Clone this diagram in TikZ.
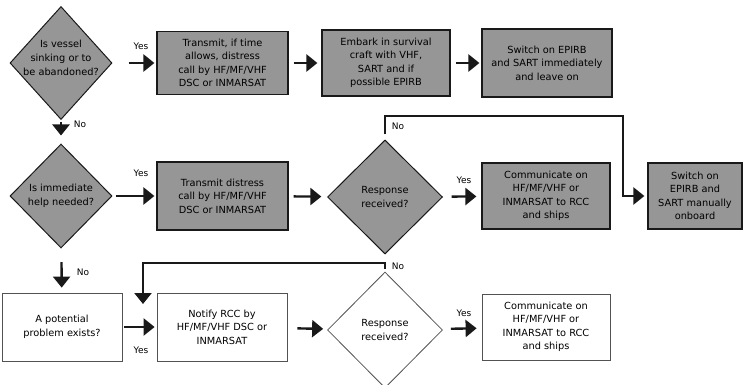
\documentclass[tikz,border=0pt]{standalone}
\usepackage{fontspec}
\setmainfont{DejaVu Sans}
\usepackage{xcolor}
\definecolor{Shade}{RGB}{150,150,150}
\definecolor{Ink}{RGB}{25,25,25}
\usepackage{tikz}
\usetikzlibrary{shapes}
\usetikzlibrary{arrows.meta}
\tikzstyle{Step}=[rectangle,draw=Ink,fill=Shade,line width=1.2pt,inner sep=0pt,
font=\fontsize{9.8}{13.5}\selectfont,align=center]
\tikzstyle{StepW}=[rectangle,draw=Ink!75,fill=white,line width=.8pt,inner sep=0pt,
font=\fontsize{9.8}{13.5}\selectfont,align=center]
\tikzstyle{Choice}=[diamond,draw=Ink,fill=Shade,line width=1pt,inner sep=0pt]
\tikzstyle{ChoiceW}=[diamond,draw=Ink!75,fill=white,line width=.8pt,inner sep=0pt]
\tikzstyle{Txt}=[font=\fontsize{9.8}{14}\selectfont,align=center]
\tikzstyle{Edge}=[draw=Ink,line width=2.4pt,-{Triangle[length=11pt,width=17pt]}]
\tikzstyle{Tag}=[font=\fontsize{9}{10}\selectfont,inner sep=0pt]

\begin{document}
\begin{tikzpicture}[x=1pt,y=-1pt]
        \useasboundingbox(0,0)rectangle(745,385);
        \node[Choice,minimum width=102pt,minimum height=113pt](d1)at(61,63){};
        \node[Txt](d1t)at(61,58){Is vessel\\sinking or to\\be abandoned?};
        \node[Step,minimum width=131pt,minimum height=63pt](b1)at(222.5,63){
            Transmit, if time\\allows, distress\\call by HF/MF/VHF\\DSC or INMARSAT};
        \node[Step,minimum width=128pt,minimum height=66pt](b2)at(386,63){
            Embark in survival\\craft with VHF,\\SART and if\\possible EPIRB};
        \node[Step,minimum width=130pt,minimum height=68pt](b3)at(547,63){
            Switch on EPIRB\\and SART immediately\\and leave on};
        \node[Choice,minimum width=102pt,minimum height=104pt](d2)at(61,196){};
        \node[Txt](d2t)at(d2){Is immediate\\help needed?};
        \node[Step,minimum width=131pt,minimum height=68pt](b4)at(222.5,196){
            Transmit distress\\call by HF/MF/VHF\\DSC or INMARSAT};
        \node[Choice,minimum width=115pt,minimum height=114pt](d3)at(385,197){};
        \node[Txt](d3t)at(d3){Response\\received?};
        \node[Step,minimum width=128pt,minimum height=66pt](b5)at(546,196){
            Communicate on\\HF/MF/VHF or\\INMARSAT to RCC\\and ships};
        \node[Step,minimum width=94pt,minimum height=66pt](b6)at(695,196){
            Switch on\\EPIRB and\\SART manually\\onboard};
        \node[StepW,minimum width=120pt,minimum height=68pt](b7)at(62,327){
            A potential\\problem exists?};
        \node[StepW,minimum width=130pt,minimum height=68pt](b8)at(222,327){
            Notify RCC by\\HF/MF/VHF DSC or\\INMARSAT};
        \node[ChoiceW,minimum width=115pt,minimum height=116pt](d4)at(385,330){};
        \node[Txt](d4t)at(d4){Response\\received?};
        \node[StepW,minimum width=128pt,minimum height=66pt](b9)at(546,327){
            Communicate on\\HF/MF/VHF or\\INMARSAT to RCC\\and ships};
        \draw[Edge,shorten <=16pt,shorten >=2pt](d1)--(b1);
        \draw[Edge,shorten <=5pt,shorten >=4pt](b1)--(b2);
        \draw[Edge,shorten <=5pt,shorten >=2pt](b2)--(b3);
        \draw[Edge,shorten <=3pt,shorten >=2pt](d2)--(b4);
        \draw[Edge,shorten <=5pt,shorten >=6pt](b4)--(d3);
        \draw[Edge,shorten <=9pt,shorten >=5pt](d3)--(b5);
        \draw[Edge,shorten <=2pt,shorten >=8pt](d1)--(d2);
        \draw[Edge,shorten <=14pt,shorten >=5pt](d2)--(b7);
        \draw[Edge,shorten <=2pt,shorten >=2pt](b7)--(b8);
        \draw[Edge,shorten <=10pt,shorten >=5pt](b8)--(d4);
        \draw[Edge,shorten <=9pt,shorten >=5pt](d4)--(b9);
        \coordinate(c1)at(623,116);
        \draw[Edge,shorten <=5pt,shorten >=3pt](d3.north)--(d3.north|-c1)--(c1)
            --(c1|-b6)--(b6.west);
        \coordinate(c2)at(143,263);
        \coordinate(j)at(143,304);
        \draw[Edge,shorten <=3pt](d4.north)--(d4.north|-c2)--(c2)--(j);
        \node[Tag](y1)at(141,46){Yes};
        \node[Tag](n1)at(80,124){No};
        \node[Tag](y2)at(141,173){Yes};
        \node[Tag](n2)at(398,126){No};
        \node[Tag](y3)at(464,180){Yes};
        \node[Tag](n3)at(83,272){No};
        \node[Tag](n4)at(398,266){No};
        \node[Tag](y4)at(141,350){Yes};
        \node[Tag](y5)at(464,313){Yes};
    \end{tikzpicture}
\end{document}
